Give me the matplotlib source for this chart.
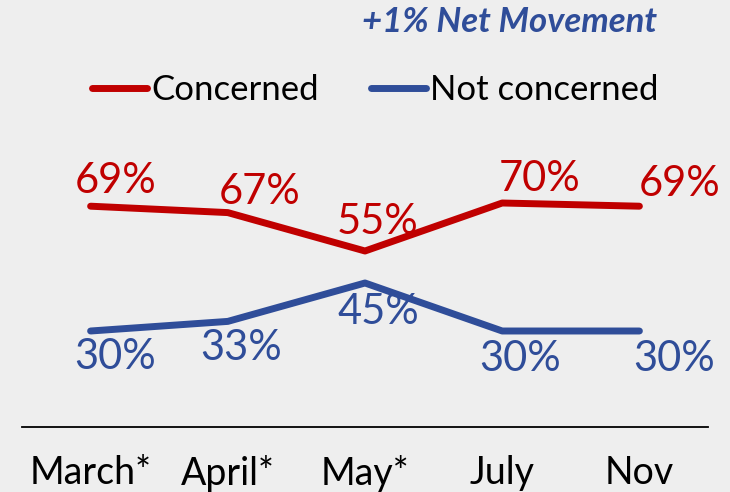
import matplotlib
matplotlib.use("Agg")
import matplotlib.pyplot as plt
from matplotlib.lines import Line2D

plt.rcParams["font.family"] = ["Lato", "DejaVu Sans"]

months = ["March*", "April*", "May*", "July", "Nov"]
concerned = [69, 67, 55, 70, 69]
not_concerned = [30, 33, 45, 30, 30]

RED = "#C00000"
BLUE = "#2F4D99"
BG = "#EEEEEE"

# label offsets (x in category units, y in percent points)
red_off = [(0.18, 7.8), (0.235, 6.4), (0.09, 9.0), (0.27, 7.5), (0.29, 6.9)]
blue_off = [(0.18, -8.1), (0.10, -8.2), (0.10, -9.0), (0.13, -8.7), (0.25, -8.7)]

fig = plt.figure(figsize=(7.3, 4.92), dpi=100, facecolor=BG)
ax = fig.add_axes([22 / 730, 65 / 492, 686 / 730, 320 / 492])
ax.set_facecolor(BG)

x = list(range(len(months)))
ax.plot(x, concerned, color=RED, lw=5, solid_capstyle="round", solid_joinstyle="round")
ax.plot(x, not_concerned, color=BLUE, lw=5, solid_capstyle="round", solid_joinstyle="round")

for i, v in enumerate(concerned):
    dx, dy = red_off[i]
    ax.text(i + dx, v + dy, f"{v}%", color=RED, fontsize=30, ha="center", va="center")
for i, v in enumerate(not_concerned):
    dx, dy = blue_off[i]
    ax.text(i + dx, v + dy, f"{v}%", color=BLUE, fontsize=30, ha="center", va="center")

ax.set_xlim(-0.5, len(months) - 0.5)
ax.set_ylim(0, 100)
ax.set_xticks(x)
ax.set_xticklabels(months, fontsize=27)
ax.tick_params(axis="x", length=0, pad=20)
ax.set_yticks([])
for s in ("top", "left", "right"):
    ax.spines[s].set_visible(False)
ax.spines["bottom"].set_color("black")
ax.spines["bottom"].set_linewidth(1.3)

handles = [Line2D([], [], color=RED, lw=5, solid_capstyle="round"),
           Line2D([], [], color=BLUE, lw=5, solid_capstyle="round")]
fig.legend(handles, ["Concerned", "Not concerned"], loc="center", bbox_to_anchor=(375 / 730, 1 - 90 / 492),
           ncol=2, frameon=False, fontsize=25, handlelength=1.6, handletextpad=0.1, columnspacing=1.5,
           borderpad=0, borderaxespad=0)

fig.text(657 / 730, 1 - 22 / 492, "+1% Net Movement", color=BLUE, fontsize=25,
         fontweight="bold", fontstyle="italic", ha="right", va="center")

fig.savefig("out.png", dpi=100, facecolor=BG)
